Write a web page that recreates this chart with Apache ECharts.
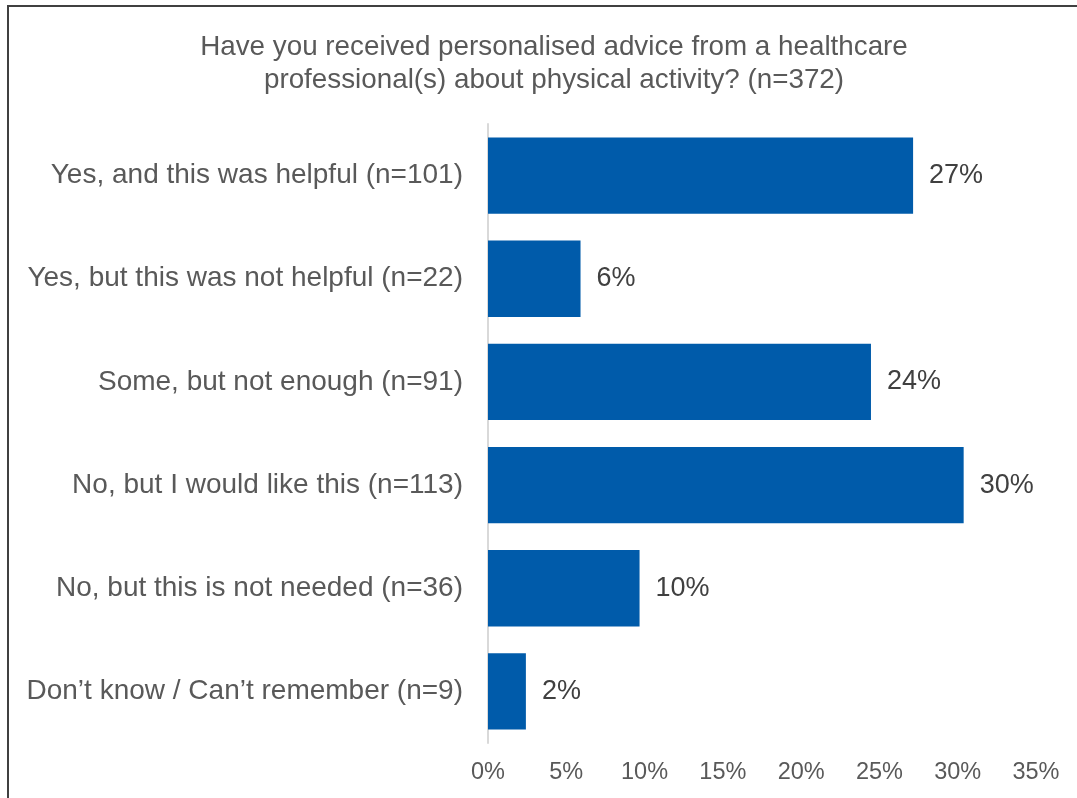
<!DOCTYPE html>
<html>
<head>
<meta charset="utf-8">
<script src="https://cdn.jsdelivr.net/npm/echarts@6/dist/echarts.min.js"></script>
<style>
  html, body { margin: 0; padding: 0; background: #fff; }
  #frame {
    position: absolute; left: 7px; top: 5px; width: 1100px; height: 820px;
    border-top: 2px solid #404040; border-left: 2px solid #404040;
  }
  #chart { position: absolute; left: 0; top: 0; width: 1077px; height: 798px; }
</style>
</head>
<body>
<div id="frame"></div>
<div id="chart"></div>
<script>
// Survey responses, top to bottom
const categories = [
  'Yes, and this was helpful (n=101)',
  'Yes, but this was not helpful (n=22)',
  'Some, but not enough (n=91)',
  'No, but I would like this (n=113)',
  'No, but this is not needed (n=36)',
  'Don\u2019t know / Can\u2019t remember (n=9)'
];
// Share of respondents, percent
const shares = [27.15, 5.91, 24.46, 30.38, 9.68, 2.42];
// Horizontal axis ticks, percent
const tickValues = [0, 5, 10, 15, 20, 25, 30, 35];

const titleText = 'Have you received personalised advice from a healthcare\nprofessional(s) about physical activity? (n=372)';
const font = '"Liberation Sans", Arial, sans-serif';

const chart = echarts.init(document.getElementById('chart'), null, { renderer: 'canvas' });
chart.setOption({
  animation: false,
  backgroundColor: 'transparent',
  title: {
    text: titleText,
    left: 549,
    top: 26,
    textAlign: 'center',
    textStyle: {
      fontFamily: font, fontSize: 27.8, fontWeight: 'normal',
      color: '#595959', lineHeight: 33
    }
  },
  grid: { left: 488, top: 124, width: 548, height: 619, containLabel: false },
  xAxis: {
    type: 'value',
    min: tickValues[0],
    max: tickValues[tickValues.length - 1],
    interval: 5,
    axisLine: { show: false },
    axisTick: { show: false },
    splitLine: { show: false },
    axisLabel: {
      formatter: v => v + '%',
      fontFamily: font, fontSize: 23.5, color: '#595959', margin: 18
    }
  },
  yAxis: {
    type: 'category',
    data: categories,
    inverse: true,
    axisLine: { show: true, lineStyle: { color: '#d9d9d9', width: 2 } },
    axisTick: { show: false },
    axisLabel: {
      fontFamily: font, fontSize: 28, color: '#595959', margin: 25
    }
  },
  series: [{
    type: 'bar',
    data: shares,
    barCategoryGap: '26%',
    itemStyle: { color: '#005BAA' },
    label: {
      show: true,
      position: 'right',
      distance: 16,
      formatter: p => Math.round(p.value) + '%',
      fontFamily: font, fontSize: 27, color: '#404040'
    }
  }]
});
</script>
</body>
</html>
